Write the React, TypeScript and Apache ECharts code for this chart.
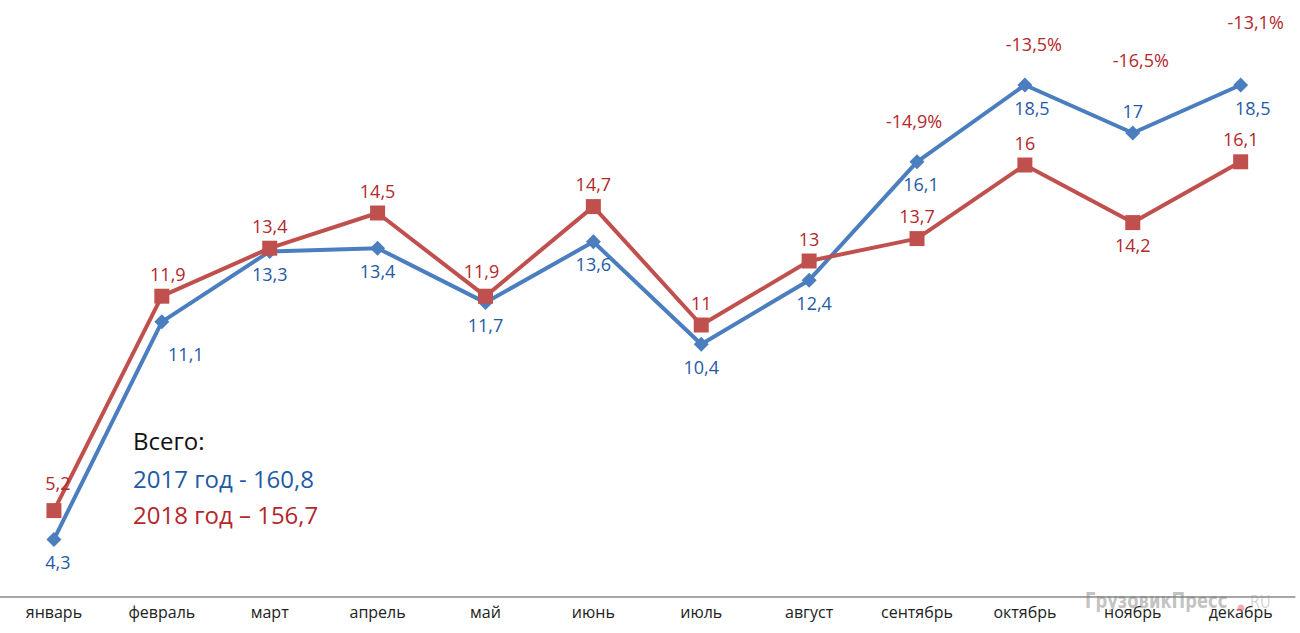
import React, { useEffect, useRef } from "react";
import * as echarts from "echarts";

const months = ["январь", "февраль", "март", "апрель", "май", "июнь", "июль", "август", "сентябрь", "октябрь", "ноябрь", "декабрь"];
const values2017 = [4.3, 11.1, 13.3, 13.4, 11.7, 13.6, 10.4, 12.4, 16.1, 18.5, 17, 18.5];
const values2018 = [5.2, 11.9, 13.4, 14.5, 11.9, 14.7, 11, 13, 13.7, 16, 14.2, 16.1];
const changeLabels = ["", "", "", "", "", "", "", "", "-14,9%", "-13,5%", "-16,5%", "-13,1%"];
const totalTitle = "Всего:";
const total2017 = "2017 год - 160,8";
const total2018 = "2018 год – 156,7";
const watermark = "ГрузовикПресс";
const watermarkTail = "RU";

const FONT = "Open Sans";
const BLUE_LINE = "#4a7ebf";
const RED_LINE = "#c0504d";
const BLUE_TEXT = "#1f5aa6";
const RED_TEXT = "#b3282d";

const fmt = (v: number) => String(v).replace(".", ",");

// per-point label tweaks (layout only)
const blueLabelTweaks: Record<number, any> = {
  0: { offset: [4, 0] },
  1: { offset: [24, 10] },
  7: { offset: [5, 0] },
  8: { offset: [4, 0] },
  9: { offset: [7, 0] },
  10: { position: "top", offset: [0, 0] },
  11: { offset: [12, 0] },
};
const redLabelTweaks: Record<number, any> = {
  0: { offset: [4, -5] },
  1: { offset: [6, 0] },
  4: { offset: [-4, -3] },
  10: { position: "bottom", offset: [0, 0] },
};
const changeTweaks: Record<number, any> = {
  8: { distance: 31, offset: [-3, 0] },
  9: { distance: 32, offset: [9, 0] },
  10: { distance: 64, offset: [8, 0] },
  11: { distance: 54, offset: [15, 0] },
};

export default function App() {
  const ref = useRef<HTMLDivElement>(null);
  useEffect(() => {
    document.body.style.margin = "0";
    if (!ref.current) return;
    const chart = echarts.init(ref.current, null, { renderer: "svg" });
    const labelBase = { show: true, fontFamily: FONT, fontSize: 18, formatter: (p: any) => fmt(p.value) };
    chart.setOption({
      animation: false,
      backgroundColor: "#ffffff",
      grid: { left: -16.6, right: 5.4, top: 37, bottom: 36, containLabel: false },
      xAxis: {
        type: "category",
        data: months,
        boundaryGap: true,
        axisLine: { show: true, lineStyle: { color: "#a6a6a6", width: 2 } },
        axisTick: { show: false },
        axisLabel: { color: "#222", fontFamily: FONT, fontSize: 16, margin: 7, interval: 0 },
      },
      yAxis: {
        type: "value",
        min: 2.5,
        max: 20,
        show: false,
        splitLine: { show: false },
      },
      graphic: [
        { type: "text", left: 133, top: 428, style: { text: totalTitle, fill: "#111", font: `24px "${FONT}"` } },
        { type: "text", left: 133, top: 466, style: { text: total2017, fill: BLUE_TEXT, font: `24px "${FONT}"` } },
        { type: "text", left: 133, top: 502, style: { text: total2018, fill: RED_TEXT, font: `24px "${FONT}"` } },
        {
          type: "text",
          x: 1085,
          y: 590,
          scaleX: 0.78,
          z: 10,
          style: { text: watermark, fill: "rgba(120,120,120,0.45)", font: `bold 21px "DejaVu Sans"` },
        },
        {
          type: "text",
          x: 1250,
          y: 594,
          scaleX: 0.85,
          z: 10,
          style: { text: watermarkTail, fill: "rgba(150,150,150,0.4)", font: `17px "DejaVu Sans"` },
        },
        { type: "circle", z: 10, shape: { cx: 1241, cy: 608, r: 3.5 }, style: { fill: "rgba(230,120,120,0.6)" } },
      ],
      series: [
        {
          name: "2017",
          type: "line",
          data: values2017.map((v, i) => ({ value: v, label: blueLabelTweaks[i] || {} })),
          symbol: "diamond",
          symbolSize: 15,
          lineStyle: { color: BLUE_LINE, width: 4 },
          itemStyle: { color: BLUE_LINE },
          label: { ...labelBase, color: BLUE_TEXT, position: "bottom", distance: 6 },
          z: 2,
        },
        {
          name: "2018",
          type: "line",
          data: values2018.map((v, i) => ({ value: v, label: redLabelTweaks[i] || {} })),
          symbol: "rect",
          symbolSize: 15,
          lineStyle: { color: RED_LINE, width: 4 },
          itemStyle: { color: RED_LINE },
          label: { ...labelBase, color: RED_TEXT, position: "top", distance: 6 },
          z: 3,
        },
        {
          name: "change",
          type: "line",
          data: values2017.map((v, i) => ({ value: v, label: { formatter: changeLabels[i], ...(changeTweaks[i] || {}) } })),
          symbol: "circle",
          symbolSize: 1,
          showSymbol: true,
          lineStyle: { width: 0, opacity: 0 },
          itemStyle: { color: "rgba(255,255,255,0)", opacity: 1 },
          label: { show: true, position: "top", fontFamily: FONT, fontSize: 18, color: RED_TEXT, opacity: 1 },
          silent: true,
          z: 4,
        },
      ],
    });
    return () => chart.dispose();
  }, []);
  return <div ref={ref} style={{ width: 1300, height: 633 }} />;
}
